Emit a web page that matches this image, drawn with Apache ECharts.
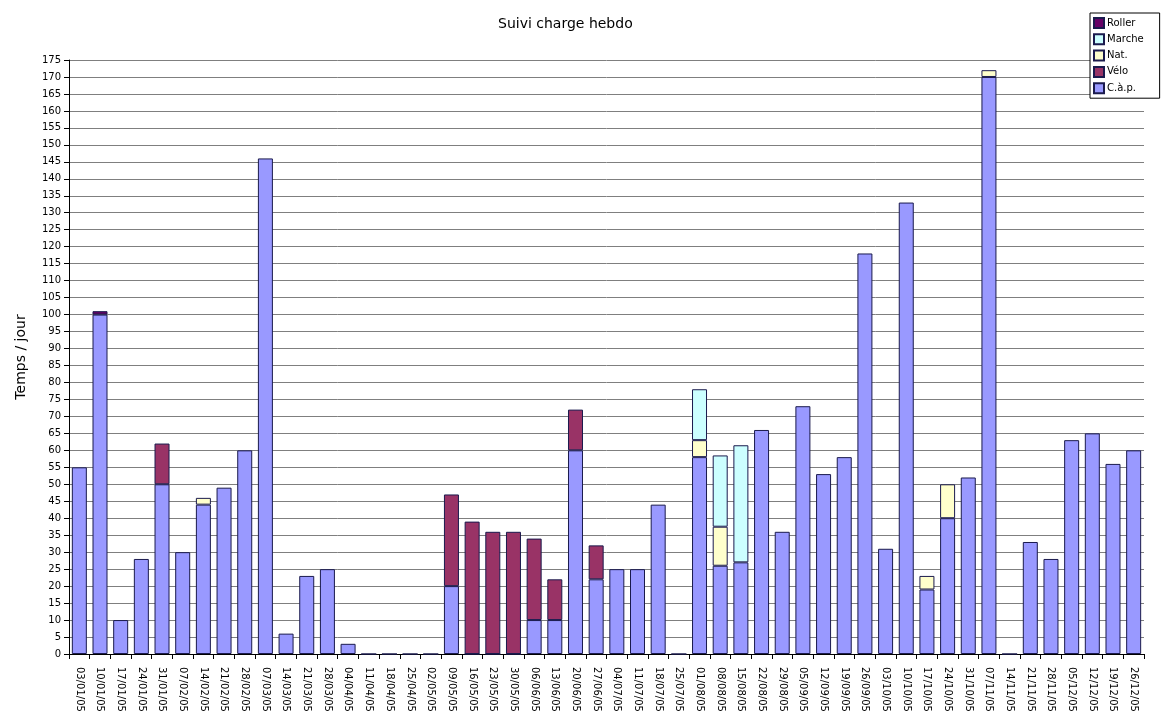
<!DOCTYPE html>
<html>
<head>
<meta charset="utf-8">
<script src="https://cdn.jsdelivr.net/npm/echarts@6/dist/echarts.min.js"></script>
<style>html,body{margin:0;padding:0;background:#fff;}#c{width:1164px;height:727px;}</style>
</head>
<body>
<div id="c"></div>
<script>
const categories = ["03/01/05","10/01/05","17/01/05","24/01/05","31/01/05","07/02/05","14/02/05","21/02/05","28/02/05","07/03/05","14/03/05","21/03/05","28/03/05","04/04/05","11/04/05","18/04/05","25/04/05","02/05/05","09/05/05","16/05/05","23/05/05","30/05/05","06/06/05","13/06/05","20/06/05","27/06/05","04/07/05","11/07/05","18/07/05","25/07/05","01/08/05","08/08/05","15/08/05","22/08/05","29/08/05","05/09/05","12/09/05","19/09/05","26/09/05","03/10/05","10/10/05","17/10/05","24/10/05","31/10/05","07/11/05","14/11/05","21/11/05","28/11/05","05/12/05","12/12/05","19/12/05","26/12/05"];
const cap    = [55,100,10,28,50,30,44,49,60,146,6,23,25,3,0,0,0,0,20,0,0,0,10,10,60,22,25,25,44,0,58,26,27,66,36,73,53,58,118,31,133,19,40,52,170,0,33,28,63,65,56,60];
const velo   = [0,0,0,0,12,0,0,0,0,0,0,0,0,0,0,0,0,0,27,39,36,36,24,12,12,10,0,0,0,0,0,0,0,0,0,0,0,0,0,0,0,0,0,0,0,0,0,0,0,0,0,0];
const nat    = [0,0,0,0,0,0,2,0,0,0,0,0,0,0,0,0,0,0,0,0,0,0,0,0,0,0,0,0,0,0,5,11.5,0,0,0,0,0,0,0,0,0,4,10,0,2,0,0,0,0,0,0,0];
const marche = [0,0,0,0,0,0,0,0,0,0,0,0,0,0,0,0,0,0,0,0,0,0,0,0,0,0,0,0,0,0,15,21,34.5,0,0,0,0,0,0,0,0,0,0,0,0,0,0,0,0,0,0,0];
const roller = [0,1,0,0,0,0,0,0,0,0,0,0,0,0,0,0,0,0,0,0,0,0,0,0,0,0,0,0,0,0,0,0,0,0,0,0,0,0,0,0,0,0,0,0,0,0,0,0,0,0,0,0];
const yTicks = {min:0, max:175, interval:5};

const font = "DejaVu Sans";
function mk(name, data, color, hideZero) {
  return {
    name, type:'bar', stack:'t', data: hideZero ? data.map(v => v === 0 ? '-' : v) : data,
    barWidth: 15,
    itemStyle:{color, borderColor:'#1a1a4d', borderWidth:1},
    emphasis:{disabled:true}
  };
}
const chart = echarts.init(document.getElementById('c'), null, {renderer:'canvas'});
chart.setOption({
  animation:false,
  backgroundColor:'#fff',
  textStyle:{fontFamily:font},
  title:{text:'Suivi charge hebdo', left:493, top:12, textStyle:{fontFamily:font, fontSize:14, fontWeight:'normal', color:'#000'}},
  legend:{
    data:['Roller','Marche','Nat.','Vélo','C.à.p.'],
    orient:'vertical', left:1090, top:13, itemWidth:10, itemHeight:10, itemGap:4.3,
    padding:[4,16,4,3], borderColor:'#000', borderWidth:1, backgroundColor:'#fff',
    textStyle:{fontFamily:font, fontSize:10, color:'#000', padding:[0,0,0,-2]},
    icon:'rect'
  },
  grid:{left:69, right:20, top:60, bottom:73},
  xAxis:{
    type:'category', data:categories,
    axisLine:{lineStyle:{color:'#000', width:1}},
    axisTick:{show:true, length:5, lineStyle:{color:'#000'}},
    axisLabel:{rotate:-90, interval:0, fontFamily:font, fontSize:10, color:'#000', margin:13}
  },
  yAxis:{
    type:'value', min:yTicks.min, max:yTicks.max, interval:yTicks.interval,
    name:'Temps / jour', nameLocation:'middle', nameGap:41,
    nameTextStyle:{fontFamily:font, fontSize:14, color:'#000'},
    axisLine:{show:true, lineStyle:{color:'#000'}},
    axisTick:{show:true, length:5, lineStyle:{color:'#000'}},
    axisLabel:{fontFamily:font, fontSize:10, color:'#000', margin:8},
    splitLine:{show:true, lineStyle:{color:'#7f7f7f', width:1}}
  },
  series:[
    mk('C.à.p.', cap, '#9999ff', false),
    mk('Vélo', velo, '#993366', true),
    mk('Nat.', nat, '#ffffcc', true),
    mk('Marche', marche, '#ccffff', true),
    mk('Roller', roller, '#660066', true)
  ]
});
</script>
</body>
</html>
